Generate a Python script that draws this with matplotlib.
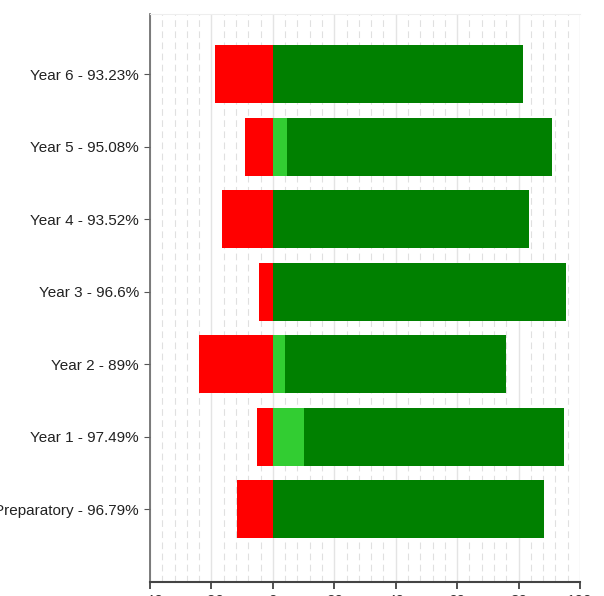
import numpy as np
import matplotlib.pyplot as plt
from matplotlib.ticker import MultipleLocator

labels = ["Preparatory - 96.79%", "Year 1 - 97.49%", "Year 2 - 89%", "Year 3 - 96.6%",
          "Year 4 - 93.52%", "Year 5 - 95.08%", "Year 6 - 93.23%"]
red = [11.8, 5.1, 24.0, 4.6, 16.7, 9.0, 18.7]
light_green = [0, 10.0, 3.9, 0, 0, 4.7, 0]
dark_green = [88.2, 84.9, 72.1, 95.4, 83.3, 86.3, 81.3]
xticks = [-40, -20, 0, 20, 40, 60, 80, 100]

plt.rcParams['font.family'] = ['Liberation Sans', 'DejaVu Sans']

fig = plt.figure(figsize=(6.04, 5.96), dpi=100)
ax = fig.add_axes([150 / 604, 1 - 582 / 596, 430 / 604, 568 / 596])

y = np.arange(len(labels))
h = 0.8
ax.barh(y, -np.array(red), height=h, color='#ff0000', zorder=3)
ax.barh(y, light_green, height=h, color='#32cd32', zorder=3)
ax.barh(y, dark_green, left=light_green, height=h, color='#008000', zorder=3)

ax.set_xlim(-40, 100)
ax.set_ylim(-1, 6.83)
ax.set_xticks(xticks)
ax.xaxis.set_minor_locator(MultipleLocator(4))
ax.set_yticks(y)
ax.set_yticklabels(labels, fontsize=11, color='#222222')
ax.tick_params(axis='x', labelsize=11, colors='#333333', length=5, width=1.2)
ax.tick_params(axis='x', which='minor', length=0)
ax.tick_params(axis='y', length=4, colors='#555555', labelcolor='#222222', pad=4)

ax.grid(axis='x', which='major', color='#e4e4e4', linewidth=1, zorder=0)
ax.grid(axis='x', which='minor', color='#e0e0e0', linestyle=(0, (6, 4)), linewidth=0.8, zorder=0)

ax.spines['right'].set_visible(False)
ax.spines['top'].set_color('#eeeeee')
ax.spines['left'].set_color('#666666')
ax.spines['left'].set_linewidth(1.2)
ax.spines['bottom'].set_color('#444444')
ax.spines['bottom'].set_linewidth(1.5)

fig.savefig('out.png', dpi=100)
